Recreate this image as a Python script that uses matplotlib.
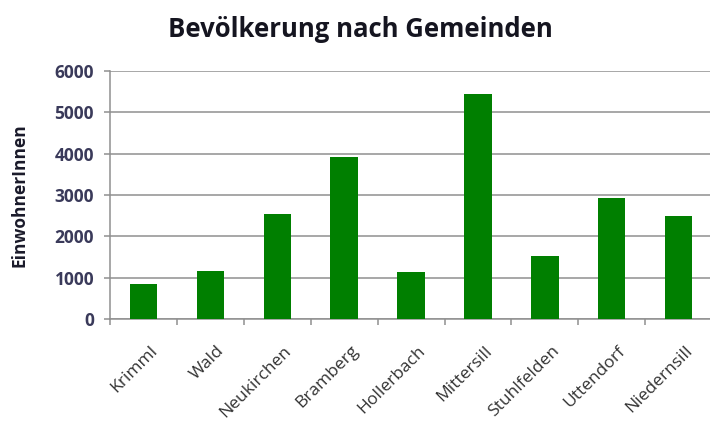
import matplotlib.pyplot as plt
import matplotlib.transforms as mtransforms
import numpy as np

# data
gemeinden = ['Krimml', 'Wald', 'Neukirchen', 'Bramberg', 'Hollerbach',
             'Mittersill', 'Stuhlfelden', 'Uttendorf', 'Niedernsill']
einwohner = [850, 1160, 2540, 3915, 1130, 5440, 1530, 2920, 2500]
yticks = [0, 1000, 2000, 3000, 4000, 5000, 6000]

plt.rcParams['font.family'] = ['Open Sans', 'DejaVu Sans']

fig = plt.figure(figsize=(7.1, 4.21), dpi=100)
ax = fig.add_axes([0.155, 0.242, 0.848, 0.589])

x = np.arange(len(gemeinden))
ax.bar(x, einwohner, width=0.41, color='#007f00', zorder=3)

ax.set_xlim(-0.5, len(gemeinden) - 0.5)
ax.set_ylim(0, 6000)
ax.set_yticks(yticks)
ax.set_yticklabels([str(v) for v in yticks], fontsize=12.5, fontweight='bold',
                   color='#3a3a5a')
ax.yaxis.grid(True, color='#8f8f8f', linewidth=1.1, zorder=0)

# category labels, ticks at the boundaries
ax.set_xticks(x)
ax.set_xticklabels(gemeinden, rotation=45, ha='right', va='top',
                   rotation_mode='anchor', fontsize=12.5, color='#333333')
ax.tick_params(axis='x', which='major', length=0, pad=17)
offset = mtransforms.ScaledTranslation(0.06, 0, fig.dpi_scale_trans)
for lab in ax.get_xticklabels():
    lab.set_transform(lab.get_transform() + offset)
ax.set_xticks(np.arange(-0.5, len(gemeinden), 1.0), minor=True)
ax.tick_params(axis='x', which='minor', length=4.5, width=1.1, color='#8f8f8f')
ax.tick_params(axis='y', length=4.5, width=1.1, color='#8f8f8f', pad=7)

for side in ['top', 'right']:
    ax.spines[side].set_visible(False)
for side in ['left', 'bottom']:
    ax.spines[side].set_color('#8f8f8f')
    ax.spines[side].set_linewidth(1.1)

fig.text(20 / 710, 1 - 195 / 421, 'EinwohnerInnen', rotation=90,
         ha='center', va='center', fontsize=12.5, fontweight='bold',
         color='#1a1a2a')
fig.text(0.508, 1 - 37 / 421, 'Bevölkerung nach Gemeinden', ha='center',
         va='baseline', fontsize=18.5, fontweight='bold', color='#151520')

plt.savefig('out.png', dpi=100)
plt.close()
